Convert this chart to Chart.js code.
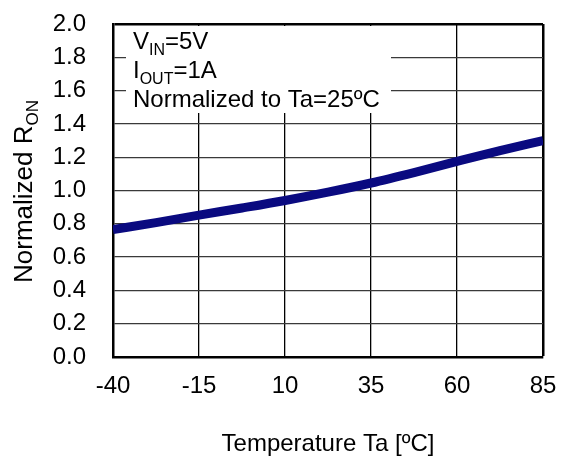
<!DOCTYPE html>
<html>
<head>
<meta charset="utf-8">
<script src="https://cdn.jsdelivr.net/npm/chart.js@4"></script>
<style>
  html, body { margin: 0; padding: 0; background: #fff; }
  #chart { display: block; }
</style>
</head>
<body>
<canvas id="chart" width="561" height="461"></canvas>
<script>
// Normalized on-resistance vs temperature
const temps = [-40, -27.5, -15, -2.5, 10, 22.5, 35, 47.5, 60, 72.5, 85];
const ronNorm = [0.765, 0.807, 0.852, 0.895, 0.94, 0.99, 1.045, 1.108, 1.175, 1.24, 1.30];
const xTicks = [-40, -15, 10, 35, 60, 85];
const yTicks = [0, 0.2, 0.4, 0.6, 0.8, 1.0, 1.2, 1.4, 1.6, 1.8, 2.0];

const FONT = "'Liberation Sans', Arial, sans-serif";

// draws "main" + subscript + "rest"
function drawSub(ctx, x, y, main, sub, rest, size, subSize) {
    size = size || 24;
    subSize = subSize || 16;
    ctx.font = size + 'px ' + FONT;
    ctx.fillText(main, x, y);
    x += ctx.measureText(main).width;
    ctx.font = subSize + 'px ' + FONT;
    ctx.fillText(sub, x, y + 6);
    x += ctx.measureText(sub).width;
    if (rest) {
        ctx.font = size + 'px ' + FONT;
        ctx.fillText(rest, x, y);
    }
}

// tick padding is otherwise added to the outer chart padding
function noPad(scale) {
    scale.paddingTop = 0;
    scale.paddingBottom = 0;
    scale.paddingLeft = 0;
    scale.paddingRight = 0;
}

const textPlugin = {
    id: 'texts',
    afterDraw(chart) {
        const ctx = chart.ctx;
        const a = chart.chartArea;
        ctx.save();

        // white box behind the conditions text
        ctx.fillStyle = '#fff';
        ctx.fillRect(a.left + 13, a.top + 2, 265, 87);

        ctx.fillStyle = '#000';
        ctx.textBaseline = 'alphabetic';
        ctx.textAlign = 'left';
        drawSub(ctx, a.left + 20, a.top + 25, 'V', 'IN', '=5V');
        drawSub(ctx, a.left + 20, a.top + 54, 'I', 'OUT', '=1A');
        ctx.font = '24px ' + FONT;
        ctx.fillText('Normalized to Ta=25\u00BAC', a.left + 20, a.top + 83);

        // y axis title with subscript
        ctx.font = '26px ' + FONT;
        const w1 = ctx.measureText('Normalized R').width;
        ctx.font = '17px ' + FONT;
        const w2 = ctx.measureText('ON').width;
        ctx.translate(32, (a.top + a.bottom) / 2 + 1);
        ctx.rotate(-Math.PI / 2);
        drawSub(ctx, -(w1 + w2) / 2, 0, 'Normalized R', 'ON', '', 26, 17);
        ctx.restore();
    }
};

const ctx = document.getElementById('chart');
new Chart(ctx, {
    type: 'line',
    data: {
        datasets: [{
            data: temps.map((t, i) => ({ x: t, y: ronNorm[i] })),
            borderColor: '#0a0a80',
            borderWidth: 9,
            pointRadius: 0,
            tension: 0.4,
            cubicInterpolationMode: 'monotone',
            fill: false,
            clip: 0
        }]
    },
    options: {
        responsive: false,
        animation: false,
        layout: {
            padding: { top: 24, right: 18, left: 0, bottom: 0 }
        },
        plugins: {
            legend: { display: false },
            tooltip: { enabled: false }
        },
        scales: {
            x: {
                type: 'linear',
                min: -40,
                max: 85,
                afterBuildTicks: (scale) => {
                    scale.ticks = xTicks.map(v => ({ value: v }));
                },
                afterFit: (scale) => { scale.height = 104; noPad(scale); },
                ticks: {
                    color: '#000',
                    font: { family: FONT, size: 24 },
                    padding: 15,
                    maxRotation: 0,
                    autoSkip: false,
                    callback: (v) => String(v)
                },
                grid: {
                    drawTicks: false,
                    color: '#000',
                    lineWidth: (c) => c.index === xTicks.length - 1 ? 2.5 : 1.3
                },
                border: { display: true, color: '#000', width: 2.5 },
                title: {
                    display: true,
                    text: 'Temperature Ta [\u00BAC]',
                    color: '#000',
                    font: { family: FONT, size: 24 },
                    padding: { top: 0, bottom: 2 }
                }
            },
            y: {
                min: 0,
                max: 2.0,
                afterBuildTicks: (scale) => {
                    scale.ticks = yTicks.map(v => ({ value: v }));
                },
                afterFit: (scale) => { scale.width = 113; noPad(scale); },
                ticks: {
                    color: '#000',
                    font: { family: FONT, size: 24 },
                    padding: 27,
                    autoSkip: false,
                    callback: (v) => Number(v).toFixed(1)
                },
                grid: {
                    drawTicks: false,
                    color: (c) => c.index === yTicks.length - 1 ? '#000' : '#3a3a3a',
                    lineWidth: (c) => c.index === yTicks.length - 1 ? 2.5 : 1.3
                },
                border: { display: true, color: '#000', width: 2.5 }
            }
        }
    },
    plugins: [textPlugin]
});
</script>
</body>
</html>
